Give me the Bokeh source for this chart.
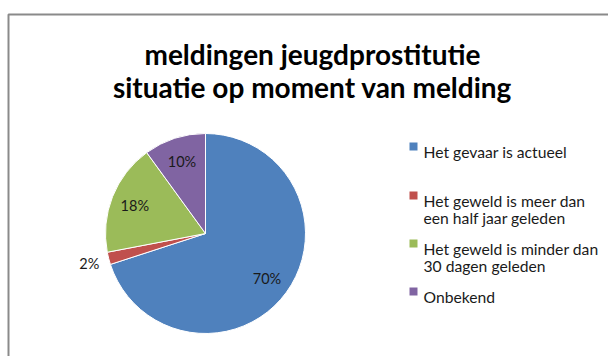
import math
from bokeh.plotting import figure
from bokeh.models import Range1d, ColumnDataSource
from bokeh.core.properties import value
from bokeh.embed import file_html
from bokeh.resources import INLINE

# --- data ---
categories = [
    "Het gevaar is actueel",
    "Het geweld is meer dan\neen half jaar geleden",
    "Het geweld is minder dan\n30 dagen geleden",
    "Onbekend",
]
percentages = [70, 2, 18, 10]
colors = ["#4F81BD", "#C0504D", "#9BBB59", "#8064A2"]
title_lines = ["meldingen jeugdprostitutie", "situatie op moment van melding"]

W, H = 608, 356
FONT = "Lato"


def Y(py):
    # convert a top-down pixel offset into the upward data axis
    return H - py


p = figure(width=W, height=H, output_backend="svg", toolbar_location=None,
           x_range=Range1d(0, W), y_range=Range1d(0, H),
           min_border=0, outline_line_color=None)
p.axis.visible = False
p.grid.visible = False
p.background_fill_color = "white"
p.border_fill_color = "white"

# chart frame
p.quad(left=8, right=W + 10, top=Y(14), bottom=-10,
       fill_color=None, line_color="#8a8a8a", line_width=2)

# title
p.text(x=[312, 312], y=[Y(53), Y(86)], text=title_lines,
       text_font=value(FONT), text_font_style="bold", text_font_size="28px",
       text_align="center", text_baseline="alphabetic", text_color="black")

# pie, clockwise from 12 o'clock
cx, cy, r = 205, Y(233), 100
total = float(sum(percentages))
starts, ends, mids = [], [], []
a = math.pi / 2
for v in percentages:
    span = v / total * 2 * math.pi
    starts.append(a)
    ends.append(a - span)
    mids.append(a - span / 2)
    a -= span

src = ColumnDataSource(dict(start=starts, end=ends, color=colors))
p.wedge(x=cx, y=cy, radius=r, start_angle="start", end_angle="end",
        direction="clock", fill_color="color", line_color="white",
        line_width=1, source=src)

# percentage labels: inside for large slices, outside for the thin one
lx, ly, lt = [], [], []
for v, m in zip(percentages, mids):
    k = 0.76 if v >= 5 else 1.2
    lx.append(cx + k * r * math.cos(m))
    ly.append(cy + k * r * math.sin(m))
    lt.append(f"{v}%")
p.text(x=lx, y=ly, text=lt, text_font=value(FONT), text_font_size="14.5px",
       text_align="center", text_baseline="middle", text_color="#1a1a1a")

# legend: one swatch per category, wrapped labels drawn line by line
baselines = [151, 200, 248, 296]
line_step = 17
p.rect(x=[413] * 4, y=[Y(b - 5) for b in baselines], width=8, height=8,
       fill_color=colors, line_color=None)
tx, ty, tt = [], [], []
for b, label in zip(baselines, categories):
    for i, part in enumerate(label.split("\n")):
        tx.append(423)
        ty.append(Y(b + i * line_step))
        tt.append(part)
p.text(x=tx, y=ty, text=tt, text_font=value(FONT), text_font_size="15.7px",
       text_align="left", text_baseline="alphabetic", text_color="#1a1a1a")

open("out.html", "w").write(file_html(p, INLINE))
